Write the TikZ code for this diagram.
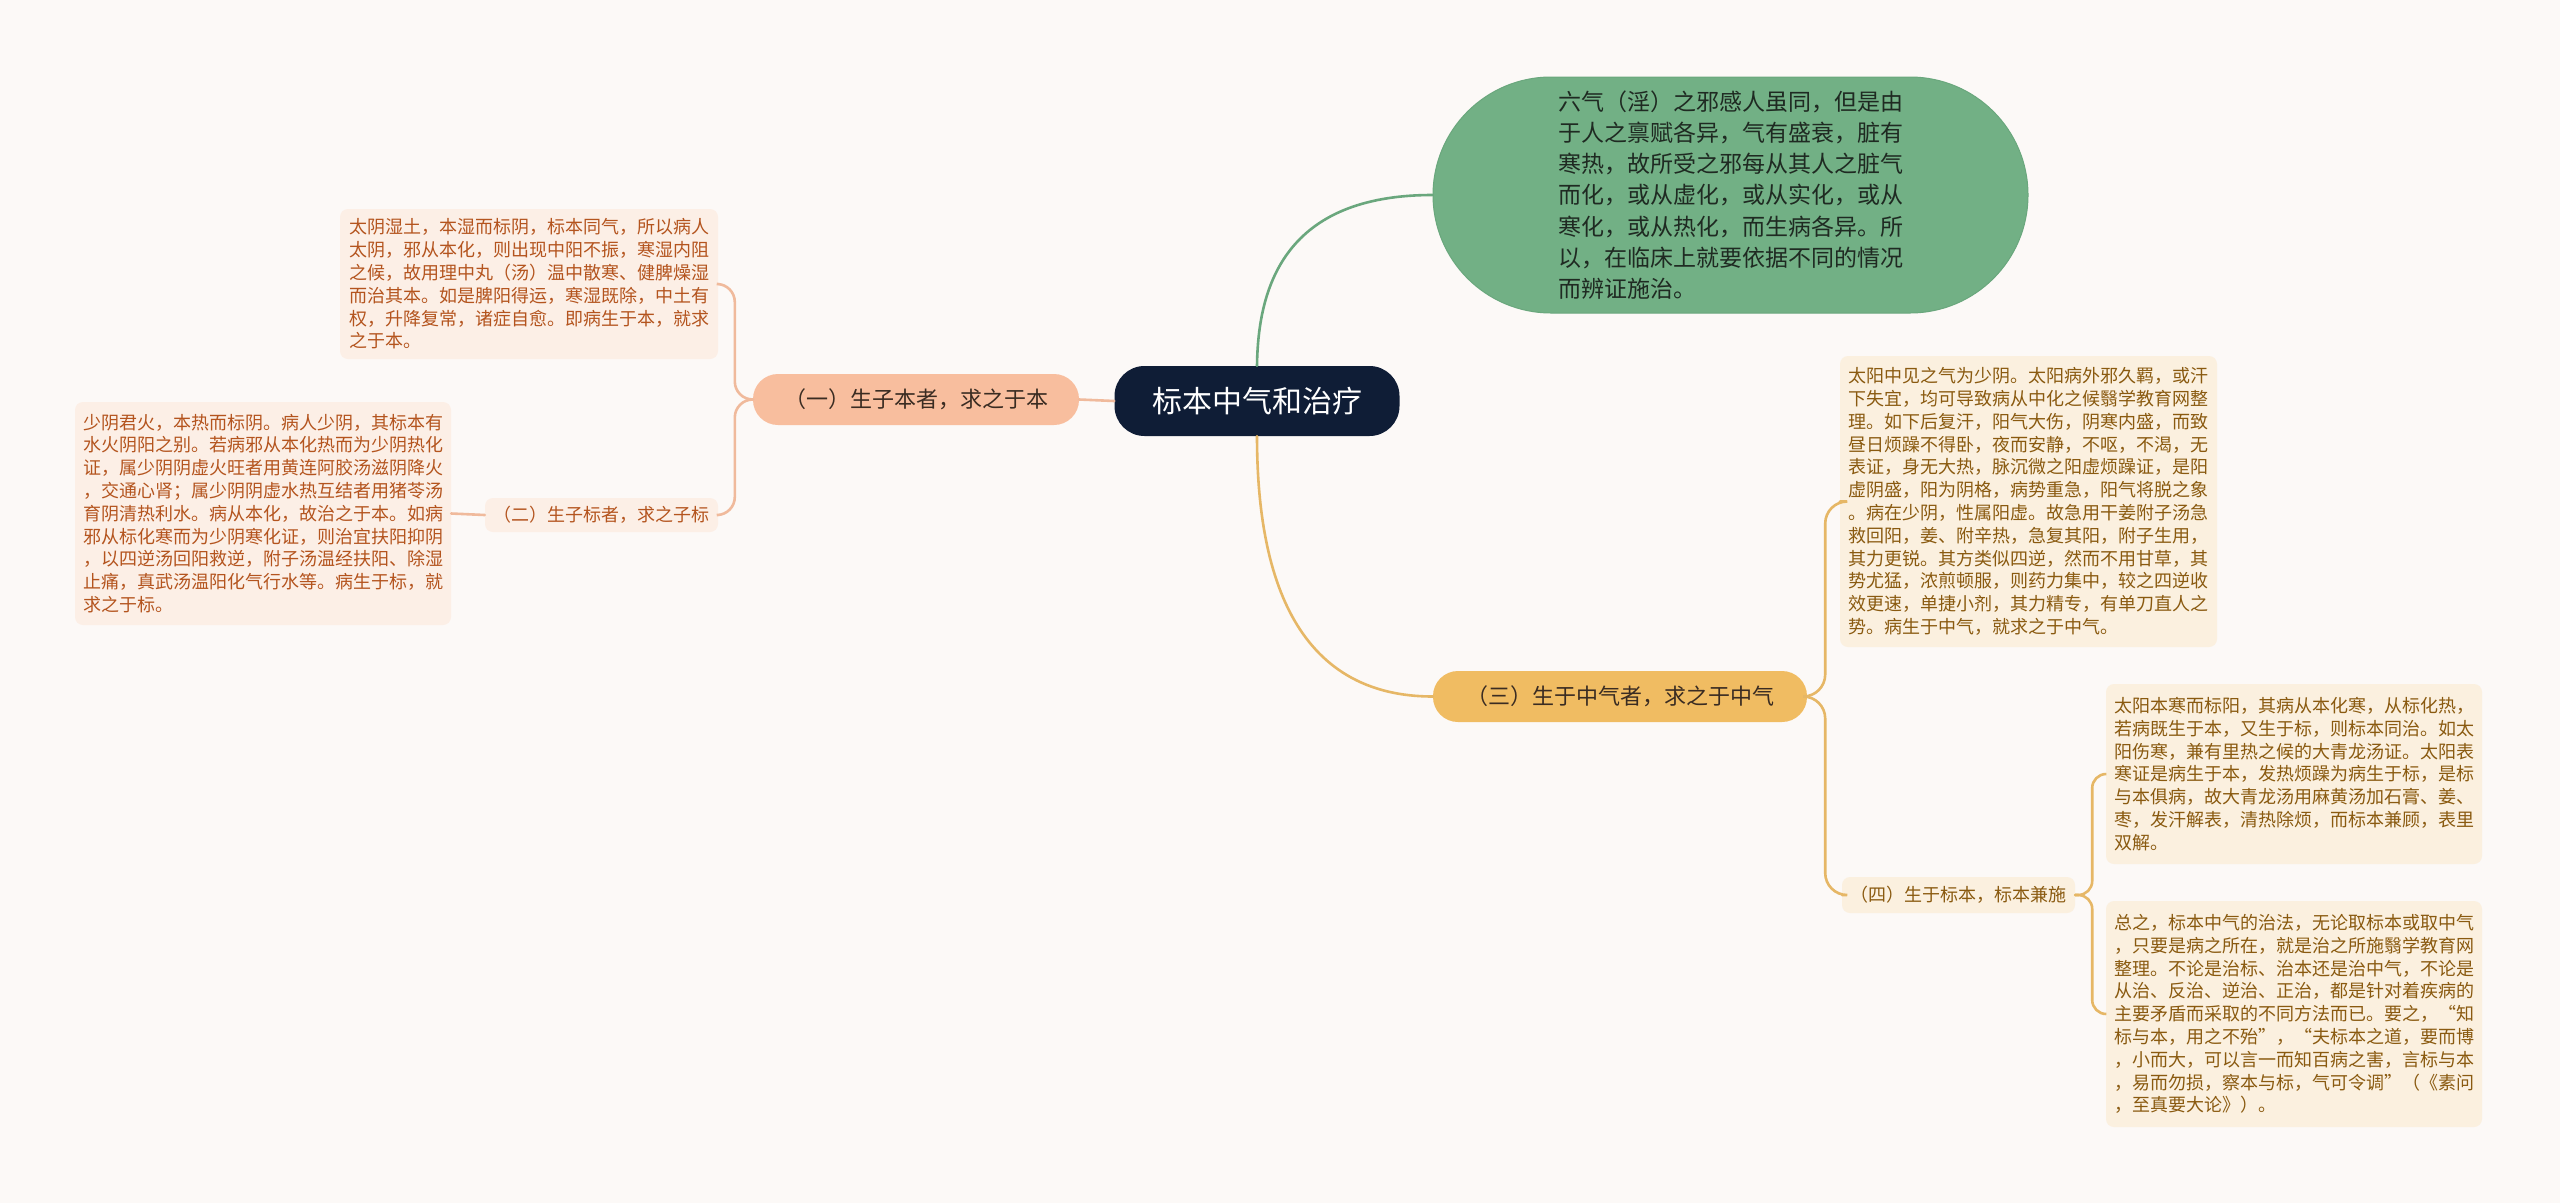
\documentclass[tikz,border=0pt]{standalone}
\usepackage{fontspec}
\setmainfont{Noto Sans CJK SC}
\definecolor{bgc}{HTML}{FCF9F7}
\definecolor{navy}{HTML}{0F1D36}
\definecolor{gfill}{HTML}{72B085}
\definecolor{gline}{HTML}{6AA77D}
\definecolor{gtext}{HTML}{1F2A22}
\definecolor{sfill}{HTML}{F8BE9E}
\definecolor{sline}{HTML}{F0BA9C}
\definecolor{lsfill}{HTML}{FCEFE6}
\definecolor{stext}{HTML}{B4541E}
\definecolor{yfill}{HTML}{F0BC62}
\definecolor{yline}{HTML}{E6B766}
\definecolor{lyfill}{HTML}{FBF0DF}
\definecolor{ytext}{HTML}{8A5A10}
\definecolor{dtext}{HTML}{3A2C22}
\tikzset{
  conn/.style={line width=2.6pt, line cap=round},
  tbox/.style={rectangle, rounded corners=8pt, inner sep=0pt, align=left,
    font=\fontsize{18}{22.8}\selectfont},
  pill/.style={rectangle, inner sep=0pt, align=center},
}
\begin{document}
\begin{tikzpicture}[x=1pt,y=-1pt]
\fill[bgc] (0,0) rectangle (2560,1203);
\useasboundingbox (0,0) rectangle (2560,1203);

% center
\node[pill, fill=navy, rounded corners=30pt, minimum width=285pt, minimum height=70pt,
  text=white, font=\fontsize{30}{36}\selectfont] (c) at (1257,401) {标本中气和治疗};

% green bubble
\node[pill, fill=gfill, draw=gline, line width=1pt, rounded corners=118pt, minimum width=595pt, minimum height=236pt,
  text=gtext, align=left, font=\fontsize{23}{31.3}\selectfont] (g) at (1730.5,195)
  {六气（淫）之邪感人虽同，但是由\\于人之禀赋各异，气有盛衰，脏有\\寒热，故所受之邪每从其人之脏气\\而化，或从虚化，或从实化，或从\\寒化，或从热化，而生病各异。所\\以，在临床上就要依据不同的情况\\而辨证施治。};

% (一)
\node[pill, fill=sfill, rounded corners=25pt, minimum width=326pt, minimum height=51pt,
  text=dtext, font=\fontsize{22}{26}\selectfont] (s1) at (916,399.5) {（一）生子本者，求之于本};

\node[tbox, fill=lsfill, text=stext, minimum width=378pt, minimum height=150pt] (ty) at (529,284)
  {太阴湿土，本湿而标阴，标本同气，所以病人\\太阴，邪从本化，则出现中阳不振，寒湿内阻\\之候，故用理中丸（汤）温中散寒、健脾燥湿\\而治其本。如是脾阳得运，寒湿既除，中土有\\权，升降复常，诸症自愈。即病生于本，就求\\之于本。};

\node[tbox, fill=lsfill, text=stext, minimum width=233pt, minimum height=34pt, align=center] (s2) at (601.5,515)
  {（二）生子标者，求之子标};

\node[tbox, fill=lsfill, text=stext, minimum width=376pt, minimum height=223pt] (sy) at (263,513.5)
  {少阴君火，本热而标阴。病人少阴，其标本有\\水火阴阳之别。若病邪从本化热而为少阴热化\\证，属少阴阴虚火旺者用黄连阿胶汤滋阴降火\\，交通心肾；属少阴阴虚水热互结者用猪苓汤\\育阴清热利水。病从本化，故治之于本。如病\\邪从标化寒而为少阴寒化证，则治宜扶阳抑阴\\，以四逆汤回阳救逆，附子汤温经扶阳、除湿\\止痛，真武汤温阳化气行水等。病生于标，就\\求之于标。};

% (三)
\node[pill, fill=yfill, rounded corners=25pt, minimum width=374pt, minimum height=51pt,
  text=dtext, font=\fontsize{22}{26}\selectfont] (s3) at (1620,696.5) {（三）生于中气者，求之于中气};

\node[tbox, fill=lyfill, text=ytext, minimum width=377pt, minimum height=291pt] (tz) at (2028.5,501.5)
  {太阳中见之气为少阴。太阳病外邪久羁，或汗\\下失宜，均可导致病从中化之候翳学教育网整\\理。如下后复汗，阳气大伤，阴寒内盛，而致\\昼日烦躁不得卧，夜而安静，不呕，不渴，无\\表证，身无大热，脉沉微之阳虚烦躁证，是阳\\虚阴盛，阳为阴格，病势重急，阳气将脱之象\\。病在少阴，性属阳虚。故急用干姜附子汤急\\救回阳，姜、附辛热，急复其阳，附子生用，\\其力更锐。其方类似四逆，然而不用甘草，其\\势尤猛，浓煎顿服，则药力集中，较之四逆收\\效更速，单捷小剂，其力精专，有单刀直人之\\势。病生于中气，就求之于中气。};

\node[tbox, fill=lyfill, text=ytext, minimum width=233pt, minimum height=36pt, align=center] (s4) at (1958.5,895)
  {（四）生于标本，标本兼施};

\node[tbox, fill=lyfill, text=ytext, minimum width=376pt, minimum height=180pt] (b1) at (2294,774)
  {太阳本寒而标阳，其病从本化寒，从标化热，\\若病既生于本，又生于标，则标本同治。如太\\阳伤寒，兼有里热之候的大青龙汤证。太阳表\\寒证是病生于本，发热烦躁为病生于标，是标\\与本俱病，故大青龙汤用麻黄汤加石膏、姜、\\枣，发汗解表，清热除烦，而标本兼顾，表里\\双解。};

\node[tbox, fill=lyfill, text=ytext, minimum width=376pt, minimum height=226pt] (b2) at (2294,1014)
  {总之，标本中气的治法，无论取标本或取中气\\，只要是病之所在，就是治之所施翳学教育网\\整理。不论是治标、治本还是治中气，不论是\\从治、反治、逆治、正治，都是针对着疾病的\\主要矛盾而采取的不同方法而已。要之，“知\\标与本，用之不殆”，“夫标本之道，要而博\\，小而大，可以言一而知百病之害，言标与本\\，易而勿损，察本与标，气可令调”（《素问\\，至真要大论》）。};

% connectors
\draw[conn, gline] (c.north) .. controls (1258,286) and (1285,195) .. (g.west);
\draw[conn, yline] (c.south) .. controls (1257,556) and (1285,696.5) .. (s3.west);
\draw[conn, sline] (c.west) -- (s1.east);
\draw[conn, sline, rounded corners=18pt] (s1.west) -- ++(-18,0) |- (ty.east);
\draw[conn, sline, rounded corners=18pt] (s1.west) -- ++(-18,0) |- (s2.east);
\draw[conn, sline] (s2.west) -- (sy.east);
\draw[conn, yline, rounded corners=22pt] (s3.east) -- ++(18,0) |- (tz.west);
\draw[conn, yline, rounded corners=22pt] (s3.east) -- ++(18,0) |- (s4.west);
\draw[conn, yline, rounded corners=14pt] (s4.east) -- ++(17,0) |- (b1.west);
\draw[conn, yline, rounded corners=14pt] (s4.east) -- ++(17,0) |- (b2.west);
\end{tikzpicture}
\end{document}
